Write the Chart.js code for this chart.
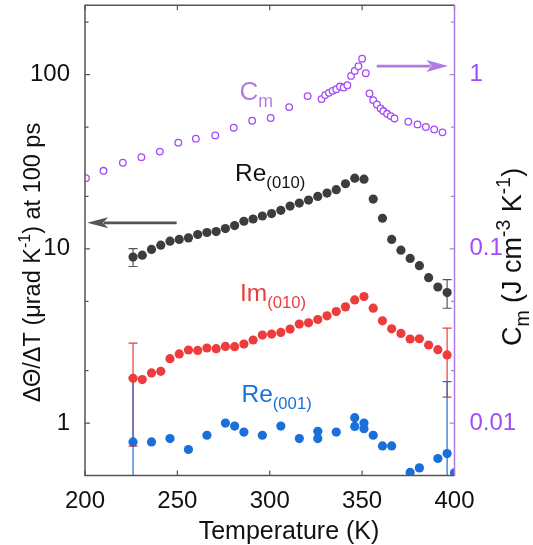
<!DOCTYPE html>
<html>
<head>
<meta charset="utf-8">
<script src="https://cdn.jsdelivr.net/npm/chart.js@4.4.1/dist/chart.umd.min.js"></script>
<style>
  html, body { margin: 0; padding: 0; background: #fff; }
  #wrap { width: 533px; height: 545px; }
</style>
</head>
<body>
<div id="wrap"><canvas id="chart" width="533" height="545"></canvas></div>
<script>
// ---- data ----
const tempMain = [226, 231, 236, 241, 246, 251, 256, 261, 266, 271, 276, 281, 286, 291, 296, 301, 306, 311,
                  316, 321, 326, 331, 336, 341, 346, 351, 356, 361, 366, 371, 376, 381, 386, 391, 396];
const re010 = [8.97, 9.20, 9.92, 10.50, 11.07, 11.32, 11.56, 12.09, 12.41, 12.57, 13.08, 13.60, 14.40, 14.84,
               15.44, 15.93, 16.64, 17.61, 18.32, 19.05, 20.0, 20.89, 21.85, 23.64, 25.45, 25.1, 19.31, 14.98,
               11.32, 9.83, 8.81, 8.00, 6.83, 6.04, 5.61];
const im010 = [1.807, 1.777, 1.941, 1.982, 2.343, 2.492, 2.627, 2.613, 2.697, 2.672, 2.754, 2.744, 2.843, 2.997,
               3.20, 3.243, 3.311, 3.463, 3.698, 3.762, 3.93, 4.125, 4.365, 4.644, 5.093, 5.318, 4.565, 3.864,
               3.476, 3.269, 3.037, 3.048, 2.805, 2.637, 2.46];
const tempRe001 = [226, 236, 246, 256, 266, 276, 281, 286, 296, 306, 316, 326, 326, 336, 346, 346, 351, 351,
                   356, 361, 366, 376, 381, 391, 396, 400];
const re001 = [0.779, 0.779, 0.815, 0.705, 0.851, 1.0, 0.961, 0.888, 0.851, 0.961, 0.815, 0.897, 0.815, 0.888,
               1.074, 0.957, 1.0, 0.929, 0.851, 0.739, 0.739, 0.521, 0.553, 0.626, 0.668, 0.518];
const tempCm = [200.5, 210, 220.5, 230.5, 240.5, 250.5, 260, 270.5, 280.5, 290.5, 300.5, 310.5, 320.5,
                328, 330, 332, 334, 336, 338, 340, 342, 344, 346, 348, 350, 352, 354, 356, 358, 360,
                361.5, 363.5, 365.5, 367.5, 375, 380, 384.5, 389, 393.5];
const cm = [0.2545, 0.2805, 0.312, 0.336, 0.3616, 0.407, 0.429, 0.448, 0.496, 0.5437, 0.5635, 0.651, 0.7527,
            0.7236, 0.763, 0.786, 0.807, 0.825, 0.854, 0.843, 0.870, 0.983, 1.05, 1.117, 1.234, 1.019, 0.779,
            0.714, 0.674, 0.639, 0.618, 0.596, 0.578, 0.5605, 0.5366, 0.518, 0.5006, 0.485, 0.4663];

// error bars (only first and last point carry one), symmetric
const errIdxMain = [0, 34];
const re010Err = [1.05, 1.05];
const im010Err = [1.07, 1.05];
const errIdxRe001 = [0, 24];
const re001Err = [1.053, 1.06];

// axes
const xTicks = [200, 250, 300, 350, 400];
const yMajor = [1, 10, 100];
const yMinor = [2, 5, 20, 50, 200];
const y2Major = [0.01, 0.1, 1];
const y2Minor = [0.02, 0.05, 0.2, 0.5, 2];

const FONT = '"Liberation Sans", Arial, sans-serif';
const PURPLE = '#a24cf7';
const PURPLE_LIGHT = '#b07ce4';
const RED = '#ee3b3b';
const BLUE = '#1b6fdb';

const pts = (xs, ys) => xs.map((x, i) => ({ x: x, y: ys[i] }));

// ---- text with sub/superscripts ----
function richWidth(ctx, parts, size, k2) {
  let w = 0;
  parts.forEach(([t, k]) => {
    ctx.font = (k ? size * k2 : size) + 'px ' + FONT;
    w += ctx.measureText(t).width;
  });
  return w;
}
function drawRich(ctx, parts, x, y, size, k2) {
  let cx = x;
  parts.forEach(([t, k]) => {
    const s = k ? size * k2 : size;
    ctx.font = s + 'px ' + FONT;
    const dy = k === 'sub' ? size * 0.28 : (k === 'sup' ? -size * 0.4 : 0);
    ctx.fillText(t, cx, y + dy);
    cx += ctx.measureText(t).width;
  });
}

// ---- error bars, drawn under the points ----
const errorBars = {
  id: 'errorBars',
  beforeDatasetsDraw(chart) {
    const { ctx, chartArea: a, scales } = chart;
    const sets = [
      [tempMain, re010, errIdxMain, re010Err, '#555'],
      [tempMain, im010, errIdxMain, im010Err, RED],
      [tempRe001, re001, errIdxRe001, re001Err, BLUE]
    ];
    ctx.save();
    ctx.beginPath();
    ctx.rect(a.left, a.top, a.right - a.left, a.bottom - a.top);
    ctx.clip();
    ctx.lineWidth = 1.2;
    sets.forEach(([xs, ys, idx, errs, col]) => {
      ctx.strokeStyle = col;
      idx.forEach((i, j) => {
        const px = scales.x.getPixelForValue(xs[i]);
        const hi = ys[i] + errs[j];
        const lo = ys[i] - errs[j];
        const pHi = scales.y.getPixelForValue(hi);
        const pLo = lo > 0 ? scales.y.getPixelForValue(lo) : a.bottom + 10;
        ctx.beginPath();
        ctx.moveTo(px, pHi); ctx.lineTo(px, pLo);
        ctx.moveTo(px - 4.5, pHi); ctx.lineTo(px + 4.5, pHi);
        if (lo > 0) { ctx.moveTo(px - 4.5, pLo); ctx.lineTo(px + 4.5, pLo); }
        ctx.stroke();
      });
    });
    ctx.restore();
  }
};

// ---- frame, inward ticks, labels, arrows, axis titles ----
function arrow(ctx, x0, y0, x1, y1, col, lw, headLen, headHalf) {
  const dir = Math.sign(x1 - x0);
  ctx.strokeStyle = col; ctx.fillStyle = col; ctx.lineWidth = lw;
  ctx.beginPath(); ctx.moveTo(x0, y0); ctx.lineTo(x1 - dir * headLen * 0.8, y1); ctx.stroke();
  ctx.beginPath();
  ctx.moveTo(x1, y1);
  ctx.lineTo(x1 - dir * headLen, y1 - headHalf);
  ctx.lineTo(x1 - dir * headLen * 0.75, y1);
  ctx.lineTo(x1 - dir * headLen, y1 + headHalf);
  ctx.closePath(); ctx.fill();
}

const decor = {
  id: 'decor',
  afterDraw(chart) {
    const { ctx, chartArea: a, scales } = chart;
    const sx = scales.x, sy = scales.y, sy2 = scales.y2;
    ctx.save();
    ctx.lineWidth = 1.5;
    // left / top / bottom frame
    ctx.strokeStyle = '#555';
    ctx.beginPath();
    ctx.moveTo(a.right, a.top); ctx.lineTo(a.left, a.top); ctx.lineTo(a.left, a.bottom); ctx.lineTo(a.right, a.bottom);
    ctx.stroke();
    // x ticks on top and bottom, left y ticks
    ctx.lineWidth = 1.2;
    ctx.beginPath();
    xTicks.forEach(v => {
      const p = sx.getPixelForValue(v);
      ctx.moveTo(p, a.bottom); ctx.lineTo(p, a.bottom - 5);
      ctx.moveTo(p, a.top); ctx.lineTo(p, a.top + 5);
    });
    yMajor.forEach(v => { const p = sy.getPixelForValue(v); ctx.moveTo(a.left, p); ctx.lineTo(a.left + 5, p); });
    yMinor.forEach(v => { const p = sy.getPixelForValue(v); ctx.moveTo(a.left, p); ctx.lineTo(a.left + 3.5, p); });
    ctx.stroke();
    // right axis in purple
    ctx.strokeStyle = PURPLE_LIGHT;
    ctx.lineWidth = 1.5;
    ctx.beginPath(); ctx.moveTo(a.right, a.top); ctx.lineTo(a.right, a.bottom); ctx.stroke();
    ctx.lineWidth = 1.2;
    ctx.beginPath();
    y2Major.forEach(v => { const p = sy2.getPixelForValue(v); ctx.moveTo(a.right, p); ctx.lineTo(a.right - 5, p); });
    y2Minor.forEach(v => { const p = sy2.getPixelForValue(v); ctx.moveTo(a.right, p); ctx.lineTo(a.right - 3.5, p); });
    ctx.stroke();

    // arrows (data coordinates)
    arrow(ctx, sx.getPixelForValue(249.6), sy.getPixelForValue(14.1),
               sx.getPixelForValue(201.2), sy.getPixelForValue(14.1), '#555', 2.8, 21, 5.5);
    arrow(ctx, sx.getPixelForValue(357.9), sy2.getPixelForValue(1.12),
               sx.getPixelForValue(396.6), sy2.getPixelForValue(1.12), PURPLE_LIGHT, 2.8, 22, 6);

    // series labels
    ctx.textAlign = 'left';
    ctx.textBaseline = 'alphabetic';
    ctx.fillStyle = '#111';
    drawRich(ctx, [['Re', ''], ['(010)', 'sub']], sx.getPixelForValue(281.2), sy.getPixelForValue(24.4), 24.5, 0.68);
    ctx.fillStyle = RED;
    drawRich(ctx, [['Im', ''], ['(010)', 'sub']], sx.getPixelForValue(283.9), sy.getPixelForValue(5.02), 24.5, 0.68);
    ctx.fillStyle = BLUE;
    drawRich(ctx, [['Re', ''], ['(001)', 'sub']], sx.getPixelForValue(284.7), sy.getPixelForValue(1.318), 24.5, 0.68);
    ctx.fillStyle = PURPLE_LIGHT;
    drawRich(ctx, [['C', ''], ['m', 'sub']], sx.getPixelForValue(283.6), sy2.getPixelForValue(0.714), 26, 0.68);

    // axis titles
    ctx.fillStyle = '#111';
    ctx.textAlign = 'center';
    ctx.font = '25px ' + FONT;
    ctx.fillText('Temperature (K)', 289, 539);

    ctx.textAlign = 'left';
    const leftTitle = [['\u0394\u0398/\u0394T (\u03bcrad K', ''], ['-1', 'sup'], [') at 100 ps', '']];
    const wl = richWidth(ctx, leftTitle, 23.5, 0.68);
    ctx.save();
    ctx.translate(39.5, 262.5);
    ctx.rotate(-Math.PI / 2);
    drawRich(ctx, leftTitle, -wl / 2, 0, 23.5, 0.68);
    ctx.restore();

    const rightTitle = [['C', ''], ['m', 'sub'], [' (J cm', ''], ['-3', 'sup'], [' K', ''], ['-1', 'sup'], [')', '']];
    const wr = richWidth(ctx, rightTitle, 27, 0.72);
    ctx.save();
    ctx.translate(521, 257);
    ctx.rotate(-Math.PI / 2);
    drawRich(ctx, rightTitle, -wr / 2, 0, 27, 0.72);
    ctx.restore();

    ctx.restore();
  }
};

// fixed box sizes so the plot area sits where the figure's does
const noPad = s => { s.paddingTop = 0; s.paddingBottom = 0; s.paddingLeft = 0; s.paddingRight = 0; };

const ctx = document.getElementById('chart').getContext('2d');
new Chart(ctx, {
  type: 'scatter',
  data: {
    datasets: [
      {
        label: 'Cm', data: pts(tempCm, cm), yAxisID: 'y2',
        pointStyle: 'circle', pointRadius: 3.3, borderWidth: 1.3,
        borderColor: PURPLE, backgroundColor: '#fff', clip: 0
      },
      {
        label: 'Re(010)', data: pts(tempMain, re010), yAxisID: 'y',
        pointRadius: 4.6, borderWidth: 0, backgroundColor: '#3d3d3d', clip: 0
      },
      {
        label: 'Im(010)', data: pts(tempMain, im010), yAxisID: 'y',
        pointRadius: 4.6, borderWidth: 0, backgroundColor: RED, clip: 0
      },
      {
        label: 'Re(001)', data: pts(tempRe001, re001), yAxisID: 'y',
        pointRadius: 4.6, borderWidth: 0, backgroundColor: BLUE, clip: 0
      }
    ]
  },
  options: {
    responsive: false,
    animation: false,
    events: [],
    layout: { padding: { top: 4, left: 0, right: 0, bottom: 0 } },
    plugins: { legend: { display: false }, tooltip: { enabled: false } },
    scales: {
      x: {
        type: 'linear', position: 'bottom', min: 200, max: 400,
        grid: { display: false }, border: { display: false },
        afterBuildTicks: s => { s.ticks = xTicks.map(v => ({ value: v })); },
        afterFit: s => { s.height = 69.5; noPad(s); },
        ticks: { font: { family: FONT, size: 24 }, color: '#111', padding: 3, maxRotation: 0 }
      },
      y: {
        type: 'logarithmic', position: 'left', min: 0.5, max: 250,
        grid: { display: false }, border: { display: false },
        afterBuildTicks: s => { s.ticks = yMajor.map(v => ({ value: v })); },
        afterFit: s => { s.width = 85; noPad(s); },
        ticks: { font: { family: FONT, size: 24 }, color: '#111', padding: 7, callback: v => String(v) }
      },
      y2: {
        type: 'logarithmic', position: 'right', min: 0.005, max: 2.5,
        grid: { display: false }, border: { display: false },
        afterBuildTicks: s => { s.ticks = y2Major.map(v => ({ value: v })); },
        afterFit: s => { s.width = 78.5; noPad(s); },
        ticks: { font: { family: FONT, size: 24 }, color: PURPLE, padding: 7, callback: v => String(v) }
      }
    }
  },
  plugins: [errorBars, decor]
});
</script>
</body>
</html>
